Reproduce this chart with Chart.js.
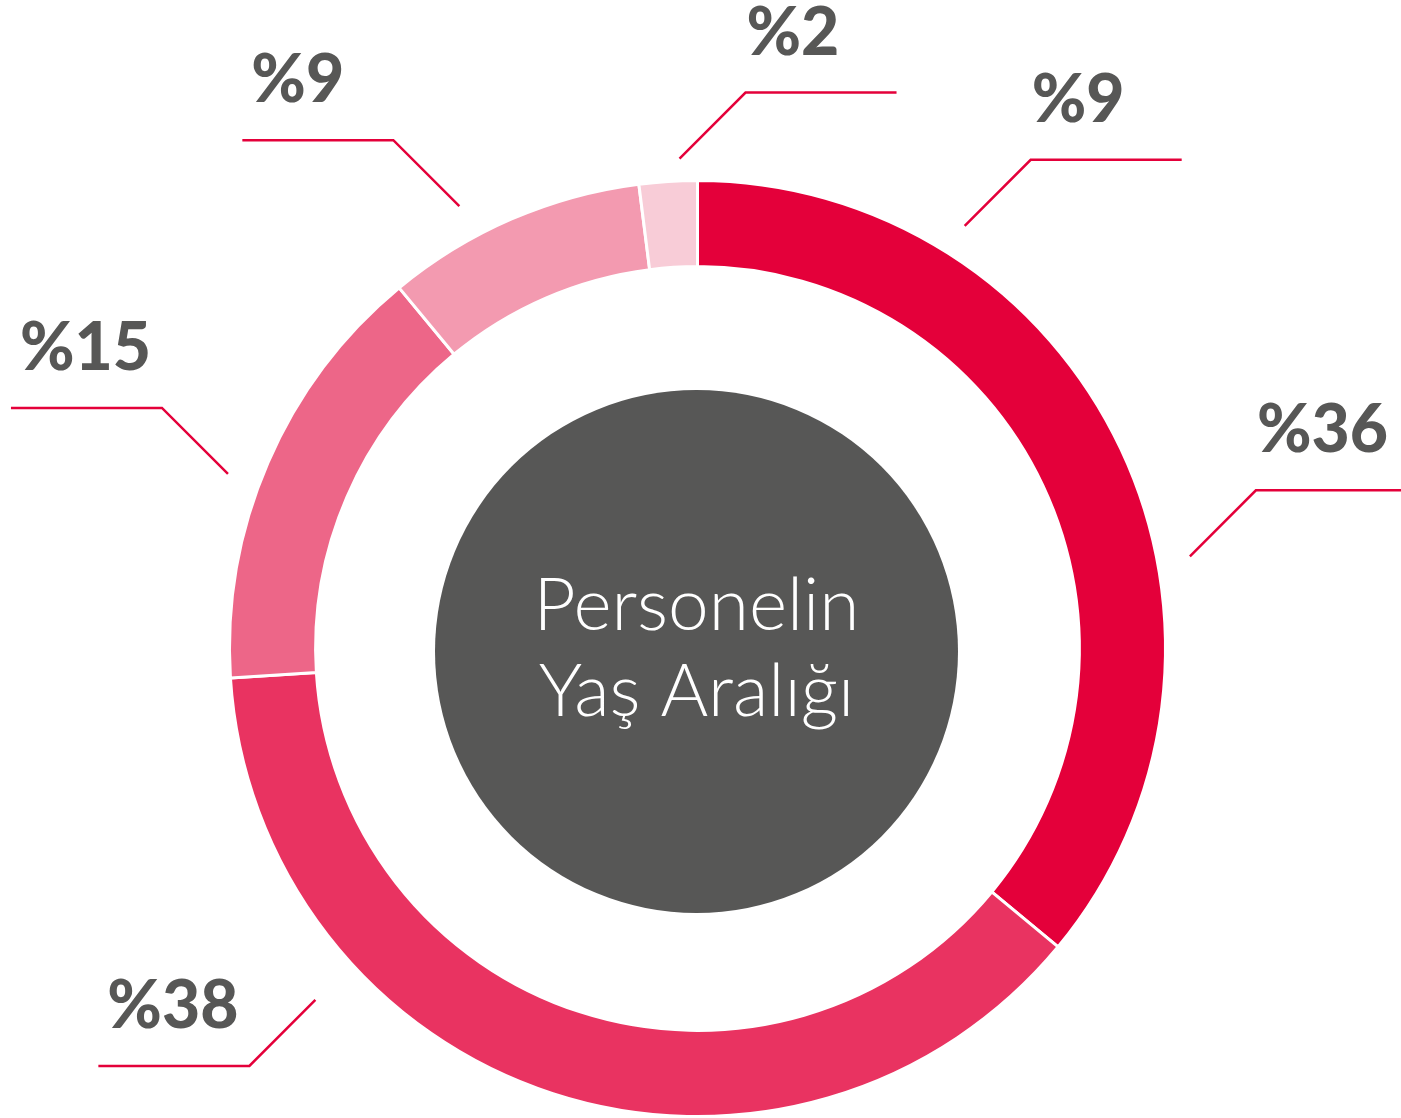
<!DOCTYPE html>
<html>
<head>
<meta charset="utf-8">
<script src="https://cdn.jsdelivr.net/npm/chart.js@4.4.1/dist/chart.umd.min.js"></script>
<style>
html,body{margin:0;padding:0;background:#fff;}
#wrap{width:1401px;height:1118px;position:relative;}
canvas{display:block;}
</style>
</head>
<body>
<div id="wrap"><canvas id="c" width="1401" height="1118"></canvas></div>
<script>
// Data
const categories = ['Grup 1', 'Grup 2', 'Grup 3', 'Grup 4', 'Grup 5'];
const values = [36, 38, 15, 9, 2];
const sliceColors = ['#E4003A', '#E93361', '#ED6688', '#F39AB0', '#F8CCD7'];
const calloutTexts = ['%2', '%9', '%36', '%38', '%15', '%9'];
const centerLines = ['Personelin', 'Yaş Aralığı'];

// Callout layout (angle clockwise from top in degrees, radial distance as multiple of outer radius)
const calloutLayout = [
  {angle: 357.9, dist: 1.052, dx: 1, dy: -1},
  {angle: 32.3, dist: 1.073, dx: 1, dy: -1},
  {angle: 79.4, dist: 1.075, dx: 1, dy: -1},
  {angle: 227.4, dist: 1.114, dx: -1, dy: 1},
  {angle: 290.4, dist: 1.075, dx: -1, dy: -1},
  {angle: 331.7, dist: 1.078, dx: -1, dy: -1}
];

const calloutPlugin = {
  id: 'callouts',
  beforeDatasetsDraw(chart) {
    const arc = chart.getDatasetMeta(0).data[0];
    if (!arc) return;
    const ctx = chart.ctx;
    const cx = arc.x, cy = arc.y;
    ctx.save();
    ctx.fillStyle = '#575756';
    ctx.beginPath();
    ctx.arc(cx - 1, cy + 3, 261.5, 0, Math.PI * 2);
    ctx.fill();
    ctx.fillStyle = '#ffffff';
    ctx.font = '300 73px Lato, "Open Sans", sans-serif';
    ctx.textAlign = 'center';
    ctx.textBaseline = 'alphabetic';
    ctx.fillText(centerLines[0], cx - 1, cy - 19);
    ctx.fillText(centerLines[1], cx - 1, cy + 67);
    ctx.restore();
  },
  afterDraw(chart) {
    const arc = chart.getDatasetMeta(0).data[0];
    if (!arc) return;
    const ctx = chart.ctx;
    const cx = arc.x, cy = arc.y, R = 466;
    ctx.save();
    ctx.strokeStyle = '#E4003A';
    ctx.lineWidth = 2.5;
    ctx.fillStyle = '#575756';
    ctx.font = '900 66px Lato, "Open Sans", sans-serif';
    ctx.textBaseline = 'alphabetic';
    ctx.textAlign = 'left';
    calloutLayout.forEach((c, i) => {
      const a = c.angle * Math.PI / 180;
      const x0 = cx + Math.sin(a) * R * c.dist;
      const y0 = cy - Math.cos(a) * R * c.dist;
      const x1 = x0 + c.dx * 66;
      const y1 = y0 + c.dy * 66;
      const x2 = x1 + c.dx * 151;
      ctx.beginPath();
      ctx.moveTo(x0, y0);
      ctx.lineTo(x1, y1);
      ctx.lineTo(x2, y1);
      ctx.stroke();
      const tx = c.dx > 0 ? x1 + 1 : x2 + 9;
      ctx.fillText(calloutTexts[i], tx, y1 - 38);
    });
    ctx.restore();
  }
};

new Chart(document.getElementById('c'), {
  type: 'doughnut',
  data: {
    labels: categories,
    datasets: [{
      data: values,
      backgroundColor: sliceColors,
      borderColor: '#ffffff',
      borderWidth: 3,
      hoverOffset: 0
    }]
  },
  options: {
    responsive: false,
    animation: false,
    cutout: '81.6%',
    rotation: 0,
    layout: {padding: {left: 227, right: 233, top: 179, bottom: 0}},
    plugins: {legend: {display: false}, tooltip: {enabled: false}, title: {display: false}}
  },
  plugins: [calloutPlugin]
});
</script>
</body>
</html>
